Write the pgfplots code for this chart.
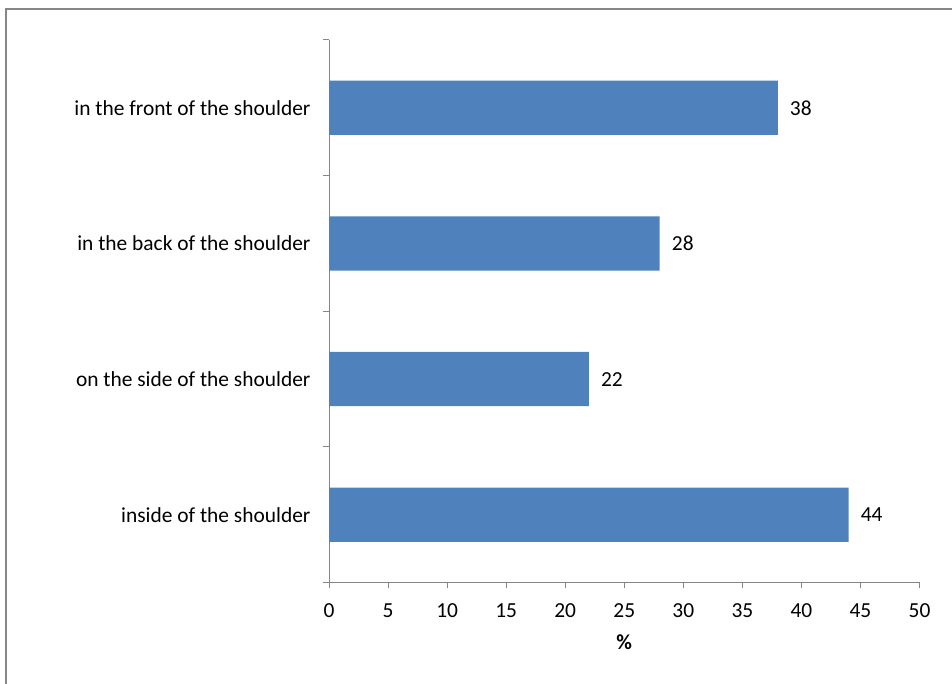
\documentclass[border=0pt]{standalone}
\usepackage{fontspec}
\setmainfont{Carlito}
\usepackage{pgfplots}
\pgfplotsset{compat=1.18}
\definecolor{barblue}{HTML}{4F81BD}
\definecolor{axisgray}{HTML}{868686}
\definecolor{framegray}{HTML}{878787}

\begin{document}
\begin{tikzpicture}[x=1bp,y=1bp]
\useasboundingbox (0,0) rectangle (952,684);
% chart frame
\draw[framegray, line width=1.5bp] (6,-2) -- (6,675) -- (954,675);
\begin{axis}[
  at={(329bp,101.5bp)}, anchor=south west,
  scale only axis, width=590.5bp, height=542.5bp,
  xmin=0, xmax=50, ymin=-0.5, ymax=3.5,
  xbar, bar width=0.4,
  axis x line*=bottom, axis y line*=left,
  axis line style={axisgray, line width=1bp},
  xtick={0,5,...,50},
  ytick={-0.5,0.5,1.5,2.5,3.5},
  y tick label as interval,
  yticklabels={inside of the shoulder, on the side of the shoulder, in the back of the shoulder, in the front of the shoulder},
  tick align=outside, major tick length=6bp,
  tick style={axisgray, line width=1bp},
  tick label style={font=\fontsize{21.5}{25}\selectfont, black},
  xticklabel style={yshift=-12bp},
  yticklabel style={xshift=-9bp},
  /pgf/number format/assume math mode=true,
  xlabel={\textbf{\%}},
  xlabel style={font=\fontsize{21.5}{25}\selectfont, yshift=-10bp},
  nodes near coords,
  nodes near coords style={anchor=west, inner sep=0pt, xshift=12bp, black, font=\fontsize{21.5}{25}\selectfont},
]
\addplot[fill=barblue, draw=none] coordinates {(44,0) (22,1) (28,2) (38,3)};
\end{axis}
\end{tikzpicture}
\end{document}
